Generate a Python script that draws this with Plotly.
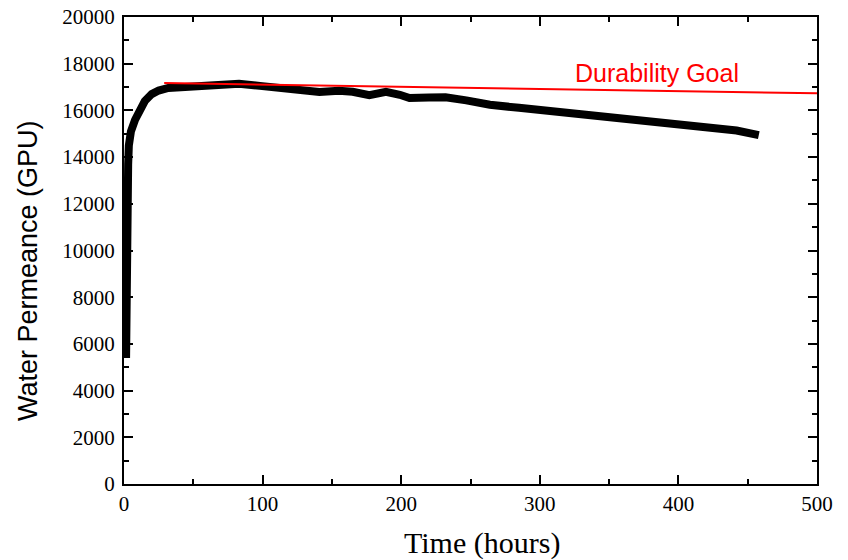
import plotly.graph_objects as go

# Data
time_hours = [1.5, 1.6, 1.8, 2.2, 2.8, 3.0, 3.5, 5, 8, 11, 15, 20, 25, 32, 45, 56, 70, 83,
              98, 110, 117, 130, 141, 155, 165, 177, 189, 199, 206, 220, 232, 247, 264,
              285, 320, 360, 400, 442, 458]
permeance = [5400, 8000, 10200, 11500, 12500, 13700, 14500, 15100, 15600, 16000, 16400,
             16700, 16850, 16960, 17000, 17030, 17080, 17140, 17050, 17000, 16950, 16900,
             16790, 16840, 16800, 16650, 16790, 16670, 16530, 16550, 16560, 16430, 16240,
             16110, 15880, 15640, 15380, 15140, 14940]
goal_t = [29, 500]
goal_val = [17170, 16730]
goal_label = "Durability Goal"

fig = go.Figure()
fig.add_trace(go.Scatter(x=time_hours, y=permeance, mode="lines",
                         line=dict(color="black", width=8), showlegend=False))
fig.add_trace(go.Scatter(x=goal_t, y=goal_val, mode="lines",
                         line=dict(color="red", width=2), showlegend=False))

axis_common = dict(
    showline=True, linecolor="black", linewidth=2, mirror="ticks",
    ticks="inside", ticklen=9, tickwidth=2, tickcolor="black",
    showgrid=False, zeroline=False, automargin=False, tickformat="d",
    ticklabeloverflow="allow",
    tickfont=dict(family="Liberation Serif", size=21, color="black"),
)

fig.update_xaxes(range=[0, 500], tickmode="linear", tick0=0, dtick=100,
                 minor=dict(ticks="inside", ticklen=5, tickwidth=2, dtick=50,
                            tickcolor="black", showgrid=False),
                 **axis_common)
fig.update_yaxes(range=[0, 20000], tickmode="linear", tick0=0, dtick=2000,
                 ticklabelstandoff=3,
                 minor=dict(ticks="inside", ticklen=5, tickwidth=2, dtick=1000,
                            tickcolor="black", showgrid=False),
                 **axis_common)

fig.add_annotation(text=goal_label, x=324, y=17616, xref="x", yref="y",
                   xanchor="left", yanchor="middle", showarrow=False,
                   font=dict(family="Liberation Sans", size=25, color="red"))
fig.add_annotation(text="Water Permeance (GPU)", x=-0.1385, y=0.456,
                   xref="paper", yref="paper", textangle=-90,
                   xanchor="center", yanchor="middle", showarrow=False,
                   font=dict(family="Liberation Sans", size=27, color="black"))
fig.add_annotation(text="Time (hours)", x=0.5166, y=-0.126,
                   xref="paper", yref="paper", xanchor="center", yanchor="middle",
                   showarrow=False,
                   font=dict(family="Liberation Serif", size=30, color="black"))

fig.update_layout(width=848, height=560,
                  margin=dict(l=116, r=39, t=9, b=84, autoexpand=False),
                  paper_bgcolor="white", plot_bgcolor="white")

fig.write_html("out.html")
